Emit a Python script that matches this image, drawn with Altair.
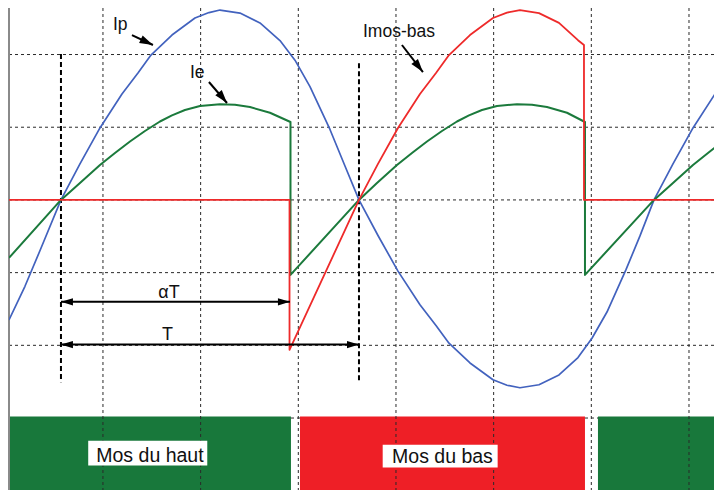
import altair as alt
import pandas as pd

# x: time in grid divisions, y: current in grid divisions
IP_T = [0.038, 0.2014, 0.3652, 0.570, 0.7645, 0.9693, 1.1946, 1.3584, 1.4915, 1.7065, 1.9420, 2.0854,
        2.1980, 2.4028, 2.6075, 2.8123, 2.9659, 3.1195, 3.3242, 3.4778, 3.6212, 3.8157, 4.0205, 4.2457,
        4.4096, 4.5427, 4.7577, 4.9931, 5.1365, 5.2696, 5.4641, 5.6689, 5.8634, 6.0068, 6.1603, 6.3549,
        6.4982, 6.6416, 6.8361, 7.0409, 7.2661, 7.4299]
IP_Y = [-1.650, -1.188, -0.665, 0.0, 0.495, 0.990, 1.457, 1.746, 1.993, 2.268, 2.502, 2.577,
        2.612, 2.570, 2.434, 2.192, 1.922, 1.559, 0.969, 0.467, 0.0, -0.489, -0.979, -1.441,
        -1.726, -1.971, -2.243, -2.474, -2.549, -2.584, -2.542, -2.408, -2.169, -1.902, -1.542, -0.959,
        -0.495, 0.0, 0.495, 0.990, 1.457, 1.746]

IE_T = [0.038, 0.570, 0.7645, 0.9693, 1.1229, 1.2765, 1.4300, 1.5836, 1.7065, 1.8396, 1.9932, 2.1980,
        2.3516, 2.5051, 2.7099, 2.920, 2.920, 3.6212, 3.8055, 4.0102, 4.1638, 4.3174, 4.4710, 4.6246,
        4.7474, 4.8805, 5.0341, 5.2389, 5.3925, 5.5460, 5.7508, 5.935, 5.935, 6.6416, 6.8361, 7.0409,
        7.1945, 7.3480]
IE_Y = [-0.797, 0.0, 0.234, 0.481, 0.646, 0.804, 0.948, 1.079, 1.162, 1.237, 1.292, 1.317,
        1.309, 1.278, 1.199, 1.072, -1.031, 0.0, 0.234, 0.481, 0.646, 0.804, 0.948, 1.079,
        1.162, 1.237, 1.292, 1.317, 1.309, 1.278, 1.199, 1.072, -1.031, 0.0, 0.234, 0.481,
        0.646, 0.804]

IMOS_T = [0.038, 2.910, 2.910, 3.6212, 3.8157, 4.0205, 4.2457, 4.4096, 4.5427, 4.7577, 4.9931, 5.1365,
          5.2696, 5.4641, 5.6689, 5.8634, 5.9248, 5.9248, 7.26]
IMOS_Y = [0.0, 0.0, -2.062, 0.0, 0.495, 0.990, 1.457, 1.746, 1.993, 2.268, 2.502, 2.577,
          2.612, 2.570, 2.435, 2.197, 2.131, 0.0, 0.0]

GRID_T = [1, 2, 3, 4, 5, 6, 7]
GRID_Y = [-3, -2, -1, 0, 1, 2]

BAR_START = [0.038, 3.017, 6.068]
BAR_END = [2.9248, 5.935, 7.26]
BAR_TOP = [-2.98, -2.98, -2.98]
BAR_BOTTOM = [-3.99, -3.99, -3.99]
BAR_COLOR = ["#18783b", "#ee1f26", "#18783b"]

MARK_T = [0.570, 3.6212]
MARK_TOP = [2.007, 1.88]
MARK_BOTTOM = [-2.509, -2.509]

# arrows: start -> tip
ARR_T1 = [1.297, 2.085, 4.061, 0.570, 0.570]
ARR_Y1 = [2.268, 1.622, 2.131, -1.402, -1.99]
ARR_T2 = [1.512, 2.270, 4.276, 2.9146, 3.6212]
ARR_Y2 = [2.131, 1.333, 1.759, -1.402, -1.99]

HEAD_T = [1.512, 2.270, 4.276, 0.570, 2.9146, 0.570, 3.6212]
HEAD_Y = [2.131, 1.333, 1.759, -1.402, -1.402, -1.99, -1.99]
HEAD_ANG = [25.5, 51, 52, 180, 0, 180, 0]
HEAD_SIZE = [180, 180, 180, 144, 144, 144, 144]

LBL_TEXT = ["Ip", "Ie", "Imos-bas"]
LBL_T = [1.102, 1.891, 3.662]
LBL_Y = [2.337, 1.677, 2.241]

DIM_TEXT = ["\u03b1T", "T"]
DIM_T = [1.676, 1.661]
DIM_Y = [-1.347, -1.924]

BOX_T1 = [0.849, 3.864]
BOX_T2 = [2.068, 5.041]
BOX_Y1 = [-3.313, -3.368]
BOX_Y2 = [-3.652, -3.680]
BOX_TEXT = ["Mos du haut", "Mos du bas"]
BOX_TXT_T = [1.481, 4.476]
BOX_TXT_Y = [-3.601, -3.615]

X_DOM = [0.038, 7.256]
Y_DOM = [-3.99, 2.64]
XS = alt.Scale(domain=X_DOM, nice=False, zero=False)
YS = alt.Scale(domain=Y_DOM, nice=False, zero=False)
FONT = "Liberation Sans"


def X(f="t"):
    return alt.X(f"{f}:Q", scale=XS, axis=None)


def Y(f="y"):
    return alt.Y(f"{f}:Q", scale=YS, axis=None)


def curve(ts, ys, color, w):
    df = pd.DataFrame({"t": ts, "y": ys, "i": list(range(len(ts)))})
    return alt.Chart(df).mark_line(color=color, strokeWidth=w, clip=True, strokeJoin="round").encode(
        x=X(), y=Y(), order=alt.Order("i:Q"))


bars = alt.Chart(pd.DataFrame({"t": BAR_START, "t2": BAR_END, "y": BAR_TOP, "y2": BAR_BOTTOM, "c": BAR_COLOR})).mark_rect(
    clip=True).encode(x=X(), x2="t2:Q", y=Y(), y2="y2:Q", color=alt.Color("c:N", scale=None))

grid_style = dict(color="#2a2a2a", strokeDash=[3, 3], strokeWidth=1)
vgrid = alt.Chart(pd.DataFrame({"t": GRID_T})).mark_rule(**grid_style).encode(x=X())
hgrid = alt.Chart(pd.DataFrame({"y": GRID_Y})).mark_rule(**grid_style).encode(y=Y())

border = alt.Chart(pd.DataFrame({"t": [X_DOM[0]]})).mark_rule(color="#8a8a8a", strokeWidth=2).encode(x=X())

markers = alt.Chart(pd.DataFrame({"t": MARK_T, "y": MARK_TOP, "y2": MARK_BOTTOM})).mark_rule(
    color="black", strokeWidth=2, strokeDash=[5, 3]).encode(x=X(), y=Y(), y2="y2:Q")

arrows = alt.Chart(pd.DataFrame({"t": ARR_T1, "y": ARR_Y1, "t2": ARR_T2, "y2": ARR_Y2})).mark_rule(
    color="black", strokeWidth=2).encode(x=X(), y=Y(), x2="t2:Q", y2="y2:Q")

HEAD = "M0,0L-2,-0.62L-2,0.62Z"
heads = alt.Chart(pd.DataFrame({"t": HEAD_T, "y": HEAD_Y, "a": HEAD_ANG, "s": HEAD_SIZE})).mark_point(
    shape=HEAD, filled=True, color="black", opacity=1, strokeWidth=0).encode(
    x=X(), y=Y(), angle=alt.Angle("a:Q", scale=None), size=alt.Size("s:Q", scale=None))

labels = alt.Chart(pd.DataFrame({"t": LBL_T, "y": LBL_Y, "txt": LBL_TEXT})).mark_text(
    font=FONT, fontSize=17.5, align="left", baseline="alphabetic", color="#111").encode(x=X(), y=Y(), text="txt:N")

dims = alt.Chart(pd.DataFrame({"t": DIM_T, "y": DIM_Y, "txt": DIM_TEXT})).mark_text(
    font=FONT, fontSize=18, align="center", baseline="alphabetic", color="#111").encode(x=X(), y=Y(), text="txt:N")

boxes = alt.Chart(pd.DataFrame({"t": BOX_T1, "t2": BOX_T2, "y": BOX_Y1, "y2": BOX_Y2})).mark_rect(
    color="white").encode(x=X(), x2="t2:Q", y=Y(), y2="y2:Q")

box_text = alt.Chart(pd.DataFrame({"t": BOX_TXT_T, "y": BOX_TXT_Y, "txt": BOX_TEXT})).mark_text(
    font=FONT, fontSize=19.5, align="center", baseline="alphabetic", color="#111").encode(x=X(), y=Y(), text="txt:N")

chart = alt.layer(
    hgrid, bars, vgrid, border, markers,
    curve(IP_T, IP_Y, "#4262be", 1.7),
    curve(IE_T, IE_Y, "#1b7a3c", 2.0),
    curve(IMOS_T, IMOS_Y, "#ee2a2a", 1.8),
    arrows, heads, labels, dims, boxes, box_text,
).properties(
    width=705, height=482, autosize="none",
    padding={"left": 1, "top": 0, "right": 0, "bottom": 0},
    background="white",
).configure_view(stroke=None)

chart.save("out.html", embed_options={"renderer": "svg", "actions": False})
